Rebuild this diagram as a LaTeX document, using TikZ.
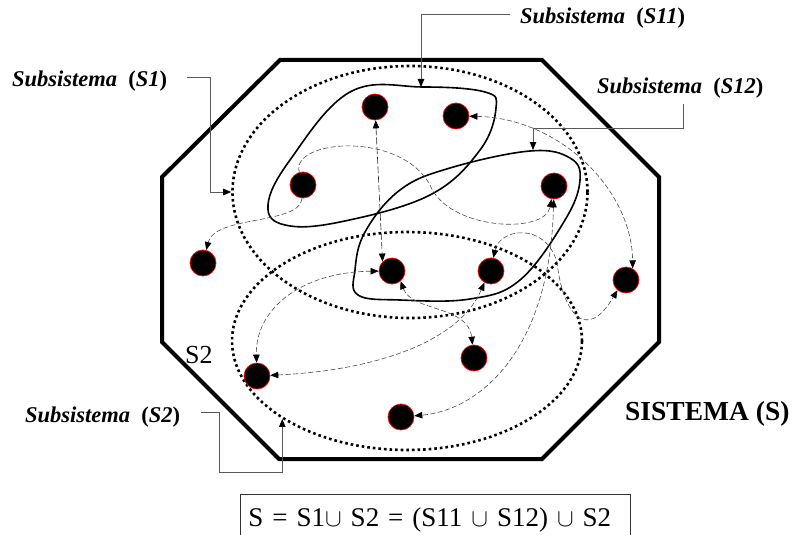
\documentclass[tikz,border=0pt]{standalone}
\usepackage{fontspec}
\setmainfont{Liberation Serif}
\usetikzlibrary{arrows.meta,shapes.geometric}

\begin{document}
\begin{tikzpicture}[
  x=1pt, y=-1pt,
  elem/.style={circle, draw=red, fill=black, line width=0.7pt,
               minimum size=26pt, inner sep=0pt},
  subsys/.style={ellipse, draw, line width=2.6pt,
                 dash pattern=on 2.6pt off 3pt, inner sep=0pt},
  blob/.style={line width=1.6pt},
  link/.style={draw=black!70, line width=0.6pt, dash pattern=on 5pt off 2.5pt},
  callout/.style={draw=black!65, line width=0.9pt},
  lbl/.style={inner sep=0pt, font=\fontsize{22.5}{25}\selectfont\bfseries},
  >={Triangle[length=8pt, width=6.5pt, color=black]}]
  \useasboundingbox (0,0) rectangle (793,535);
  \clip (0,0) rectangle (793,535);

  % sistema
  \draw[line width=4pt] (280,60) -- (542,60) -- (659,177) -- (659,342)
    -- (542,459) -- (279,459) -- (162,342) -- (162,177) -- cycle;

  % subsistemas
  \node[subsys, minimum width=355pt, minimum height=252pt] (s1) at (410,192) {};
  \node[subsys, minimum width=350pt, minimum height=218pt] (s2) at (407,341) {};
  \draw[blob] plot[smooth cycle, tension=0.65] coordinates {(350,92) (423,87)
    (485,92) (496,108) (480,150) (430,195) (340,222) (285,225) (268,205) (290,160)};
  \draw[blob] plot[smooth cycle, tension=0.65] coordinates {(355,270) (365,232)
    (400,190) (450,168) (530,151) (570,158) (580,180) (565,220) (520,280)
    (470,299) (400,300) (358,295)};
  \coordinate (s11top) at (421,87);
  \coordinate (s12top) at (533,150);

  % elementos
  \node[elem] (e1) at (375,107) {};
  \node[elem] (e2) at (456,116) {};
  \node[elem] (e3) at (303,185) {};
  \node[elem] (e4) at (554,186) {};
  \node[elem] (e5) at (203,263) {};
  \node[elem] (e6) at (392,271) {};
  \node[elem] (e7) at (491,271) {};
  \node[elem] (e8) at (626,280) {};
  \node[elem] (e9) at (474,358) {};
  \node[elem] (e10) at (257,376) {};
  \node[elem] (e11) at (401,417) {};

  % relaciones
  \draw[link, ->] (e3) .. controls (300,225) and (215,215) .. (e5);
  \draw[link, ->] (e3) .. controls (290,140) and (400,130) .. (430,185)
    .. controls (448,230) and (545,235) .. (e4);
  \draw[link, <->, draw=black!85, dash pattern=on 7pt off 2.5pt] (e1) -- (e6.north west);
  \draw[link, <->] (e2) .. controls (560,118) and (632,190) .. (e8.60);
  \draw[link, <->] (e7.80) .. controls (500,228) and (545,222) .. (557,262)
    .. controls (562,310) and (585,345) .. (e8.230);
  \draw[link, <->] (e10) .. controls (380,370) and (460,340) .. (e7.240);
  \draw[link, <->] (e6) .. controls (300,272) and (255,310) .. (e10);
  \draw[link, <->] (e6.-50) .. controls (412,312) and (468,305) .. (e9);
  \draw[link, <->] (e4) .. controls (550,350) and (480,410) .. (e11);

  % etiquetas
  \node[lbl, anchor=base west] (lbls1) at (12,87) {\textit{Subsistema}\ \ (\textit{S1})};
  \node[lbl, anchor=base west] (lbls11) at (520,24) {\textit{Subsistema}\ \ (\textit{S11})};
  \node[lbl, anchor=base west] (lbls12) at (597,93) {\textit{Subsistema}\ \ (\textit{S12})};
  \node[lbl, anchor=base west] (lbls2) at (25,422) {\textit{Subsistema}\ \ (\textit{S2})};
  \node[anchor=base west, inner sep=0pt, font=\fontsize{27.5}{30}\selectfont\bfseries]
    (sistema) at (625,420) {SISTEMA (S)};
  \node[anchor=base west, inner sep=0pt, font=\fontsize{26}{28}\selectfont]
    (lbls2b) at (185,363) {S2};
  \node[draw=black!80, line width=0.8pt, anchor=base west, inner xsep=8pt,
        inner ysep=13pt, text width=374pt, align=left,
        font=\fontsize{27}{30}\selectfont] (formula) at (240,526)
    {\mbox{S = S1$\cup$ S2 = (S11 $\cup$ S12) $\cup$ S2}};

  \draw[callout, ->] ([shift={(20,-4)}]lbls1.east) -| ([xshift=-21pt]s1.west) -- (s1.west);
  \draw[callout, ->] ([shift={(-10,-4)}]lbls11.west) -| (s11top);
  \draw[callout, ->] ([xshift=86pt, yshift=-6pt]lbls12.south west) -- ++(0,24) -| (s12top);
  \draw[callout, ->] ([shift={(21,-4)}]lbls2.east) -| (219,472) -| (s2.212);
\end{tikzpicture}
\end{document}
